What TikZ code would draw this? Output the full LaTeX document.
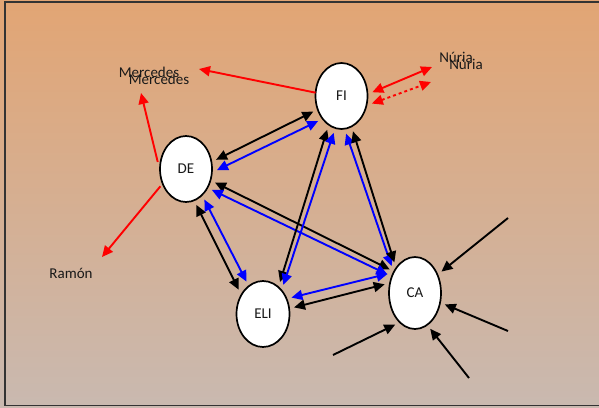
\documentclass[tikz,border=0pt]{standalone}
\usepackage{fontspec}
\setmainfont{Carlito}
\usetikzlibrary{arrows.meta,shapes.geometric}
\definecolor{bgtop}{RGB}{226,165,116}
\definecolor{bgbot}{RGB}{201,185,176}
\tikzset{
	pers/.style={ellipse, draw=black, line width=1.7pt, fill=white, inner sep=0pt,
		minimum width=52pt, minimum height=66pt, outer sep=5pt,
		font=\fontsize{15}{18}\selectfont, text=black!90},
	lbl/.style={font=\fontsize{15}{18}\selectfont, text=black!90, inner sep=0pt},
	tip/.tip={Triangle[length=11pt,width=10pt]},
	con/.style={line width=1.9pt, tip-tip},
	one/.style={line width=1.9pt, -tip},
}

\begin{document}
\begin{tikzpicture}[x=1pt, y=-1pt]
		%%%%% START %%%%%
		\useasboundingbox (0, 0) rectangle (599, 407);
		\shade[top color=bgtop, bottom color=bgbot] (0, 0) rectangle (599, 407);
		\draw[line width=1.5pt, color=black!80] (5, 2) rectangle (610, 405.5);
		
		\node[pers] (FI) at (341.5, 96) {FI};
		\node[pers] (DE) at (186, 169) {DE};
		\node[pers, minimum width=53pt] (ELI) at (263, 314) {ELI};
		\node[pers, minimum height=72pt] (CA) at (415, 293) {CA};
		
		\node[lbl] (merc1) at (149, 72) {Mercedes};
		\node[lbl] (merc2) at (159, 79) {Mercedes};
		\node[lbl] (nur1) at (456, 57) {Núria};
		\node[lbl] (nur2) at (466, 64) {Núria};
		\node[lbl] (ramon) at (71, 273) {Ramón};
		
		\coordinate (mercA) at (199, 69);
		\coordinate (mercB) at (141, 93);
		\coordinate (ramA) at (102, 257);
		\coordinate (nurA) at (432, 67);
		\coordinate (nurB) at (431, 82);
		
		% red links
		\draw[one, red, shorten <=-5pt] (FI.172) -- (mercA);
		\draw[one, red, shorten <=-5pt] (DE.158) -- (mercB);
		\draw[one, red, shorten <=-2pt] (DE.215) -- (ramA);
		\draw[con, red] (FI.7) -- (nurA);
		\draw[con, red, dash pattern=on 3pt off 3pt] (FI.346) -- (nurB);
		
		% black and blue pairs
		\draw[con] (FI.209) -- (DE.17);
		\draw[con, blue] (FI.227) -- (DE.358);
		\draw[con] (DE.335) -- (CA.137);
		\draw[con, blue] (DE.321) -- (CA.146);
		\draw[con] (DE.286) -- (ELI.135);
		\draw[con, blue] (DE.301) -- (ELI.117);
		\draw[con] (FI.247) -- (ELI.62);
		\draw[con, blue] (FI.258) -- (ELI.55);
		\draw[con, blue] (FI.277) -- (CA.131);
		\draw[con] (FI.288) -- (CA.124);
		\draw[con, blue] (ELI.30) -- (CA.145);
		\draw[con] (ELI.12) -- (CA.164);
		
		% loose arrows into CA
		\coordinate (inA) at (508, 218);
		\coordinate (inB) at (508, 331);
		\coordinate (inC) at (469, 378);
		\coordinate (inD) at (333, 355);
		\draw[one] (inA) -- (CA.39);
		\draw[one] (inB) -- (CA.339);
		\draw[one] (inC) -- (CA.293);
		\draw[one] (inD) -- (CA.238);
		%%%%% END %%%%%
\end{tikzpicture}
\end{document}
